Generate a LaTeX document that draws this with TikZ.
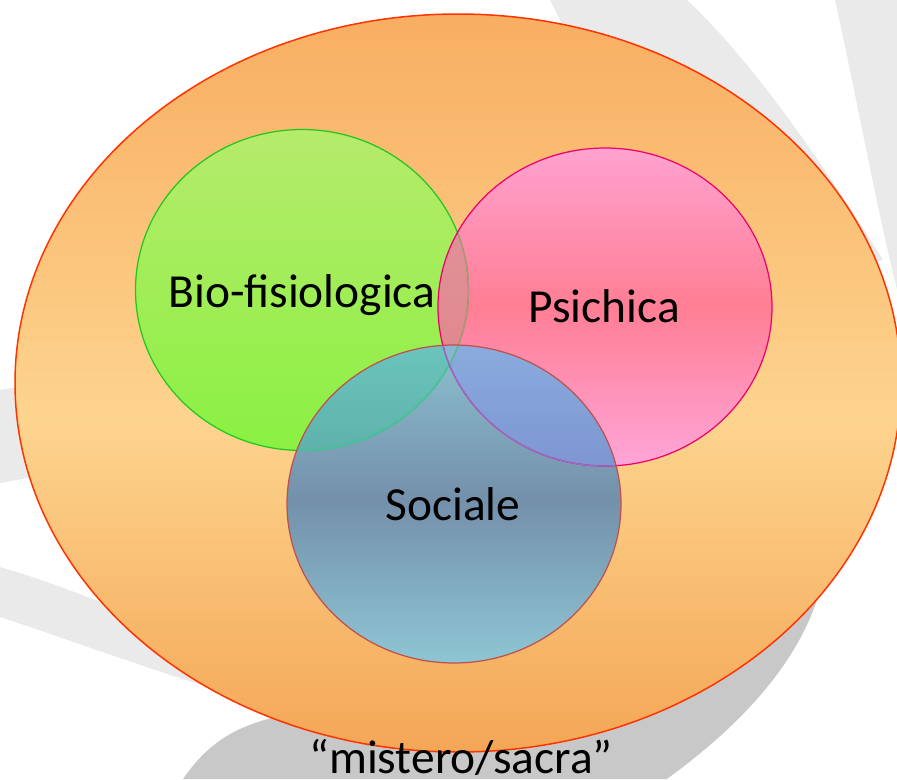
\documentclass[tikz,border=0pt]{standalone}
\usepackage{fontspec}
\setmainfont{Carlito}
\usepackage{tikz}

\definecolor{outerline}{RGB}{255,51,0}
\definecolor{outertop}{RGB}{248,174,98}
\definecolor{outermid}{RGB}{253,212,142}
\definecolor{outerbot}{RGB}{244,166,86}
\definecolor{bioline}{RGB}{30,200,30}
\definecolor{biotop}{RGB}{182,235,108}
\definecolor{biobot}{RGB}{138,240,66}
\definecolor{psiline}{RGB}{240,0,106}
\definecolor{psitop}{RGB}{255,162,208}
\definecolor{psimid}{RGB}{255,126,148}
\definecolor{psibot}{RGB}{255,166,216}
\definecolor{socline}{RGB}{192,80,77}
\definecolor{soctop}{RGB}{140,192,208}
\definecolor{socmid}{RGB}{116,144,170}
\definecolor{socbot}{RGB}{142,198,212}
\definecolor{biopsitop}{RGB}{222,152,162}
\definecolor{biopsibot}{RGB}{226,130,132}
\definecolor{biosoctop}{RGB}{130,235,220}
\definecolor{biosocbot}{RGB}{95,178,172}
\definecolor{psisoctop}{RGB}{160,205,240}
\definecolor{psisocbot}{RGB}{125,150,210}
\definecolor{allthree}{RGB}{135,182,210}
\definecolor{biolinepsi}{RGB}{192,140,135}
\definecolor{biolinesoc}{RGB}{70,195,170}
\definecolor{psilinesoc}{RGB}{150,110,200}
\definecolor{swooshlight}{RGB}{234,234,234}
\definecolor{swooshdark}{RGB}{200,200,200}

\newcommand{\wholeshape}{(whole) ellipse [x radius=443, y radius=369]}
\newcommand{\bioshape}{(bio) ellipse [x radius=166.5, y radius=160.5]}
\newcommand{\psishape}{(psi) ellipse [x radius=167, y radius=159]}
\newcommand{\socshape}{(soc) ellipse [x radius=167, y radius=159]}

\begin{document}
\begin{tikzpicture}[x=0.02cm, y=-0.02cm, line width=0.7pt,
    swoosh/.style={fill=swooshlight, draw=none},
    setlabel/.style={anchor=base, inner sep=0pt, font=\fontsize{27}{32}\selectfont}]
    \useasboundingbox (0,0) rectangle (897,779);
    \clip (0,0) rectangle (897,779);
    \fill[swoosh] (550,0) -- (687,0) .. controls (740,50) and (800,127) .. (883,260) -- (700,300) -- cycle;
    \fill[swoosh] (835,0) -- (897,0) -- (897,290) .. controls (875,200) and (855,90) .. (835,0);
    \fill[swoosh] (0,390) .. controls (30,385) and (50,382) .. (70,380) -- (70,470) .. controls (40,475) and (20,480) .. (0,483) -- cycle;
    \fill[swoosh] (0,567) .. controls (80,590) and (150,625) .. (260,660) -- (250,700) .. controls (150,670) and (70,640) .. (0,617) -- cycle;
    \fill[swooshdark] (183,779) .. controls (210,740) and (240,722) .. (300,712) -- (817,600) .. controls (790,680) and (720,740) .. (667,779) -- cycle;

    \coordinate (whole) at (458,383);
    \coordinate (bio) at (302,290);
    \coordinate (psi) at (605,307);
    \coordinate (soc) at (454,504);

    \begin{scope}
        \clip \wholeshape;
        \shade[top color=outertop, bottom color=outermid] (14,13) rectangle (902,420);
        \shade[top color=outermid, bottom color=outerbot] (14,420) rectangle (902,753);
    \end{scope}
    \draw[outerline, line width=0.85pt] \wholeshape;
    \shade[top color=biotop, bottom color=biobot] \bioshape;
    \begin{scope}
        \clip \psishape;
        \shade[top color=psitop, bottom color=psimid] (437,147) rectangle (773,307);
        \shade[top color=psimid, bottom color=psibot] (437,307) rectangle (773,467);
        \shade[top color=biopsitop, bottom color=biopsibot] \bioshape;
    \end{scope}
    \begin{scope}
        \clip \socshape;
        \shade[top color=soctop, bottom color=socmid] (286,344) rectangle (622,500);
        \shade[top color=socmid, bottom color=socbot] (286,500) rectangle (622,664);
        \shade[top color=biosoctop, bottom color=biosocbot] \bioshape;
        \shade[top color=psisoctop, bottom color=psisocbot] \psishape;
        \clip \psishape;
        \fill[allthree] \bioshape;
    \end{scope}

    \draw[bioline] \bioshape;
    \begin{scope}
        \clip \psishape;
        \draw[biolinepsi] \bioshape;
    \end{scope}
    \begin{scope}
        \clip \socshape;
        \draw[biolinesoc] \bioshape;
    \end{scope}
    \draw[psiline] \psishape;
    \begin{scope}
        \clip \socshape;
        \draw[psilinesoc] \psishape;
    \end{scope}
    \draw[socline] \socshape;

    \node[setlabel] (biolabel) at (302,307) {Bio-fisiologica};
    \node[setlabel] (psilabel) at (604,322) {Psichica};
    \node[setlabel] (soclabel) at (453,520) {Sociale};
    \node[setlabel] (sacredlabel) at (461,773) {“mistero/sacra”};
\end{tikzpicture}
\end{document}
